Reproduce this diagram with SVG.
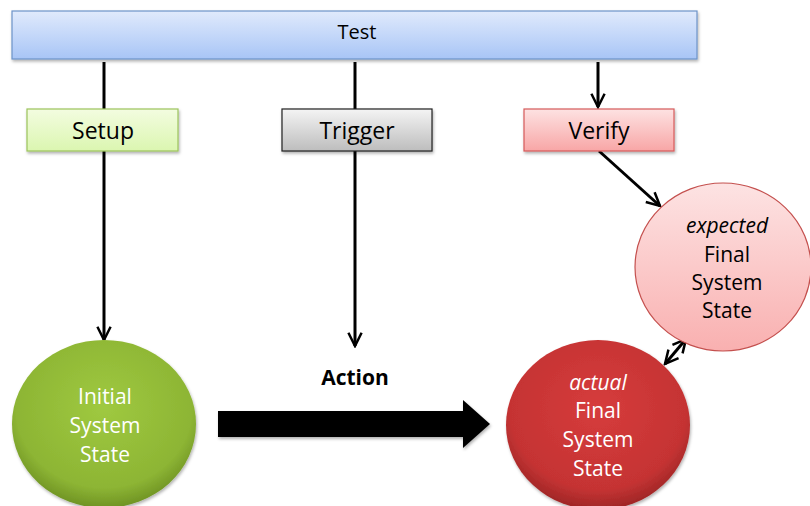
<svg xmlns="http://www.w3.org/2000/svg" width="810" height="506" viewBox="0 0 810 506">
<defs>
<linearGradient id="gTest" x1="0" y1="0" x2="0" y2="1"><stop offset="0" stop-color="#e0eafc"/><stop offset="1" stop-color="#a8c5f6"/></linearGradient>
<linearGradient id="gSetup" x1="0" y1="0" x2="0" y2="1"><stop offset="0" stop-color="#f3fce0"/><stop offset="1" stop-color="#dbf6b0"/></linearGradient>
<linearGradient id="gTrig" x1="0" y1="0" x2="0" y2="1"><stop offset="0" stop-color="#f4f4f4"/><stop offset="1" stop-color="#bdbdbd"/></linearGradient>
<linearGradient id="gVer" x1="0" y1="0" x2="0" y2="1"><stop offset="0" stop-color="#fde2e2"/><stop offset="1" stop-color="#f8a6a6"/></linearGradient>
<linearGradient id="gExp" x1="0" y1="0" x2="0" y2="1"><stop offset="0" stop-color="#fde3e3"/><stop offset="1" stop-color="#f9b0b0"/></linearGradient>
<radialGradient id="gInit" cx="0.5" cy="0.4" r="0.6"><stop offset="0" stop-color="#9fc940"/><stop offset="0.8" stop-color="#8db534"/><stop offset="1" stop-color="#6f9324"/></radialGradient>
<radialGradient id="gAct" cx="0.5" cy="0.4" r="0.6"><stop offset="0" stop-color="#d63c3c"/><stop offset="0.8" stop-color="#c53333"/><stop offset="1" stop-color="#9e2626"/></radialGradient>
<filter id="sh" x="-10%" y="-10%" width="130%" height="140%"><feDropShadow dx="1" dy="2" stdDeviation="1.5" flood-color="#000" flood-opacity="0.3"/></filter>
<marker id="ah" viewBox="0 0 10 10" refX="9" refY="5" markerWidth="5.5" markerHeight="5.5" orient="auto-start-reverse" markerUnits="strokeWidth"><path d="M1,1 L9,5 L1,9" fill="none" stroke="#000" stroke-width="1.5"/></marker>
</defs>
<style>
text{font-family:"Open Sans","Liberation Sans",sans-serif;font-size:21px;text-anchor:middle}
.lb{font-size:23px}
.w{fill:#fff}
.ln{stroke:#000;stroke-width:3;fill:none}
</style>
<g id="connectors">
<line class="ln" x1="104" y1="62" x2="104" y2="109"/>
<line class="ln" x1="104" y1="151" x2="104" y2="340" marker-end="url(#ah)"/>
<line class="ln" x1="355" y1="62" x2="355" y2="109"/>
<line class="ln" x1="355" y1="151" x2="355" y2="346" marker-end="url(#ah)"/>
<line class="ln" x1="598" y1="62" x2="598" y2="107" marker-end="url(#ah)"/>
<line class="ln" x1="599" y1="151" x2="660" y2="206" marker-end="url(#ah)"/>
<line class="ln" x1="665" y1="364" x2="686" y2="339" marker-start="url(#ah)" marker-end="url(#ah)"/>
<path d="M218,411 L463,411 L463,400 L490,424 L463,448 L463,437 L218,437 Z" fill="#000" filter="url(#sh)"/>
<text x="355" y="385" style="font-weight:bold">Action</text>
</g>
<g id="test"><rect x="12" y="11" width="685" height="48" fill="url(#gTest)" stroke="#6d93c9" stroke-width="1.2" filter="url(#sh)"/><text x="357" y="39" style="font-size:20px">Test</text></g>
<g id="setup"><rect x="27" y="109" width="151" height="42" fill="url(#gSetup)" stroke="#9cc35c" stroke-width="1.2" filter="url(#sh)"/><text class="lb" x="103" y="139">Setup</text></g>
<g id="trigger"><rect x="282" y="109" width="150" height="42" fill="url(#gTrig)" stroke="#222" stroke-width="1.2" filter="url(#sh)"/><text class="lb" x="357" y="139">Trigger</text></g>
<g id="verify"><rect x="524" y="109" width="150" height="42" fill="url(#gVer)" stroke="#d65a5a" stroke-width="1.2" filter="url(#sh)"/><text class="lb" x="599" y="139">Verify</text></g>
<g id="initial"><ellipse cx="104" cy="424" rx="92" ry="84" fill="url(#gInit)" filter="url(#sh)"/>
<text class="w" x="105" y="404">Initial</text><text class="w" x="105" y="433">System</text><text class="w" x="105" y="462">State</text></g>
<g id="actual"><ellipse cx="598" cy="425" rx="92" ry="85" fill="url(#gAct)" filter="url(#sh)"/>
<text class="w" x="598" y="390" style="font-style:italic">actual</text><text class="w" x="598" y="418">Final</text><text class="w" x="598" y="447">System</text><text class="w" x="598" y="476">State</text></g>
<g id="expected"><ellipse cx="723" cy="267" rx="88" ry="84" fill="url(#gExp)" stroke="#c4504e" stroke-width="1.2"/>
<text x="727" y="233" style="font-style:italic">expected</text><text x="727" y="262">Final</text><text x="727" y="290">System</text><text x="727" y="318">State</text></g>
</svg>
